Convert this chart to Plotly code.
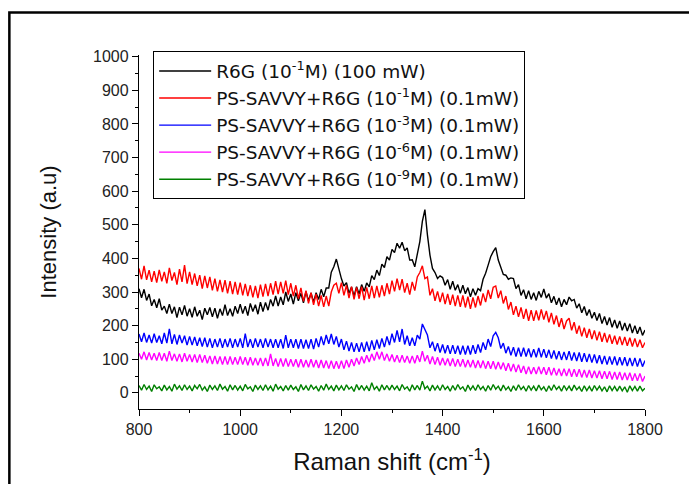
import plotly.graph_objects as go

raman_shift = list(range(800, 1801, 5))

r6g_100mw = [
    310,283,308,275,294,259,278,253,280,246,
    258,236,264,236,256,224,255,232,260,228,
    250,225,256,228,246,218,252,232,254,226,
    252,222,250,230,262,230,250,228,258,236,
    264,236,258,230,266,242,262,234,270,242,
    269,246,278,258,288,258,285,262,300,272,
    294,264,298,274,296,268,301,274,297,270,
    298,278,308,286,312,312,359,375,398,365,
    340,318,328,296,315,288,316,294,322,302,
    327,315,349,337,365,349,383,373,405,395,
    427,417,445,430,448,423,431,395,396,375,
    408,450,510,545,470,410,370,358,340,348,
    343,320,337,308,332,305,322,296,320,295,
    313,286,310,290,310,304,338,356,380,405,
    420,432,395,372,352,350,338,342,340,310,
    322,290,307,280,304,278,298,275,302,284,
    309,282,295,268,287,262,282,256,278,262,
    285,274,278,252,265,238,257,230,248,222,
    240,215,236,206,227,202,224,195,217,192,
    214,186,208,184,206,178,200,176,196,171,
    187,
]

savvy_1e1 = [
    370,338,378,336,365,330,362,328,366,332,
    360,326,372,334,358,322,368,330,380,325,
    360,322,355,318,350,310,348,312,345,305,
    340,302,336,300,335,296,332,294,330,292,
    328,290,324,288,320,284,318,282,322,286,
    324,288,326,292,332,294,330,296,334,292,
    326,288,320,280,312,272,304,266,298,262,
    294,258,290,256,288,258,300,320,326,296,
    328,290,320,282,316,278,314,280,316,276,
    314,280,318,282,318,284,320,288,326,294,
    334,302,340,306,338,298,326,292,330,304,
    345,358,378,340,345,290,310,274,302,270,
    298,264,294,262,292,258,290,256,290,254,
    286,250,284,254,288,260,296,270,306,280,
    314,318,282,304,266,288,248,270,232,258,
    226,254,220,250,214,246,214,245,216,248,
    218,244,210,238,204,230,196,222,190,214,
    222,186,210,176,200,168,194,164,190,160,
    186,156,182,152,178,150,174,146,170,144,
    168,142,166,140,164,138,162,136,158,134,
    150,
]

savvy_1e3 = [
    175,152,178,150,172,148,176,150,170,146,
    178,148,190,146,174,144,172,148,170,142,
    168,142,166,140,164,138,164,136,162,134,
    160,136,162,134,160,136,162,134,160,136,
    162,134,176,136,160,134,162,136,160,134,
    162,136,160,134,160,134,160,132,172,134,
    160,134,160,132,160,132,158,132,160,130,
    162,136,168,142,172,146,175,144,168,136,
    160,128,154,124,150,122,148,122,150,122,
    152,124,156,128,158,132,162,136,168,142,
    176,150,186,152,190,144,170,140,164,140,
    172,160,205,190,172,134,152,124,148,120,
    144,118,142,116,142,116,140,114,140,114,
    140,114,142,116,144,120,150,128,160,138,
    170,180,164,132,148,118,138,112,136,108,
    134,108,134,108,132,106,130,106,134,106,
    130,104,128,102,126,100,124,98,122,98,
    124,96,120,95,120,92,118,92,116,90,
    114,88,112,86,110,84,108,84,108,82,
    106,82,106,80,104,80,104,78,102,78,
    96,
]

savvy_1e6 = [
    118,100,122,98,120,98,118,96,120,96,
    118,94,124,96,116,94,116,92,118,94,
    114,92,114,90,114,90,112,88,110,86,
    110,86,108,84,108,84,108,84,106,84,
    108,84,106,82,106,82,104,82,104,80,
    104,80,116,80,102,78,102,78,102,78,
    100,78,100,76,100,76,98,76,100,76,
    98,74,98,74,96,72,96,72,94,72,
    96,72,98,76,100,80,104,84,108,88,
    112,92,116,96,122,100,122,96,116,94,
    114,92,112,90,112,90,110,88,110,88,
    112,92,124,94,112,86,108,84,106,82,
    104,82,102,80,102,78,100,78,100,76,
    98,76,98,74,96,74,96,72,94,72,
    94,70,92,70,90,66,88,64,86,62,
    84,60,80,56,78,56,76,56,78,56,
    76,54,76,52,74,52,72,50,72,50,
    72,48,70,48,70,46,68,46,68,44,
    66,44,66,42,64,42,64,40,62,40,
    62,38,60,38,60,36,58,36,58,34,
    50,
]

savvy_1e9 = [
    22,8,25,10,20,4,24,12,18,6,
    23,9,19,5,26,11,21,7,24,10,
    20,6,22,12,25,8,18,4,23,10,
    21,7,26,11,19,5,24,9,22,8,
    20,6,25,12,18,4,23,10,21,7,
    24,9,20,5,26,11,19,6,22,8,
    23,10,18,4,25,9,21,7,24,11,
    19,5,22,8,26,10,20,6,23,9,
    21,7,24,11,18,4,25,9,22,8,
    20,6,30,10,19,5,24,9,22,8,
    23,10,20,6,25,11,18,5,24,9,
    22,8,35,12,20,6,23,9,21,7,
    24,10,19,5,22,8,25,11,18,4,
    23,9,21,7,24,10,19,5,22,8,
    25,11,20,6,23,9,18,4,21,7,
    24,10,19,5,22,8,20,6,23,9,
    18,4,21,7,24,10,19,5,22,8,
    20,6,23,9,18,4,21,7,19,5,
    22,8,20,6,18,3,21,7,19,5,
    20,6,18,2,21,7,19,5,20,6,
    14,
]

series_names = [
    "R6G (10<sup>-1</sup>M) (100 mW)",
    "PS-SAVVY+R6G (10<sup>-1</sup>M) (0.1mW)",
    "PS-SAVVY+R6G (10<sup>-3</sup>M) (0.1mW)",
    "PS-SAVVY+R6G (10<sup>-6</sup>M) (0.1mW)",
    "PS-SAVVY+R6G (10<sup>-9</sup>M) (0.1mW)",
]
series_values = [r6g_100mw, savvy_1e1, savvy_1e3, savvy_1e6, savvy_1e9]
series_colors = ["#000000", "#FF0000", "#0000FF", "#FF00FF", "#008000"]

x_ticks = [800, 1000, 1200, 1400, 1600, 1800]
y_ticks = list(range(0, 1001, 100))

fig = go.Figure()
for name, vals, col in zip(series_names, series_values, series_colors):
    fig.add_trace(go.Scatter(
        x=raman_shift, y=vals, mode="lines", name=name,
        line=dict(color=col, width=1.4),
    ))

font_family = "Liberation Sans, Arial, sans-serif"

fig.update_layout(
    width=689, height=484,
    margin=dict(l=139, r=44, t=55, b=75),
    paper_bgcolor="white", plot_bgcolor="white",
    font=dict(family=font_family, color="#222222", size=15),
    showlegend=True,
    legend=dict(
        x=0.028, y=1.01, xanchor="left", yanchor="top",
        bgcolor="white", bordercolor="#000000", borderwidth=1,
        font=dict(size=18.5, family="DejaVu Sans, sans-serif", color="#111111"),
        traceorder="normal",
        itemwidth=52,
    ),
    xaxis=dict(
        range=[800, 1800], tickvals=x_ticks,
        showgrid=False, zeroline=False,
        showline=True, linecolor="#000000", linewidth=1.3,
        ticks="outside", ticklen=6, tickwidth=1.2, tickcolor="#000000",
        minor=dict(dtick=100, tick0=800, ticks="outside", ticklen=3, tickwidth=1, tickcolor="#000000"),
        tickfont=dict(size=16),
        title=dict(text="Raman shift (cm<sup>-1</sup>)", font=dict(size=24, color="#111111"), standoff=15),
    ),
    yaxis=dict(
        range=[-48, 1005], tickvals=y_ticks,
        showgrid=False, zeroline=False,
        showline=True, linecolor="#000000", linewidth=1.3,
        ticks="outside", ticklen=6, tickwidth=1.2, tickcolor="#000000",
        minor=dict(dtick=50, tick0=0, ticks="outside", ticklen=3, tickwidth=1, tickcolor="#000000"),
        tickfont=dict(size=16),
        title=dict(text="Intensity (a.u)", font=dict(size=22, color="#111111"), standoff=30),
    ),
    shapes=[dict(
        type="rect", xref="paper", yref="paper",
        x0=-0.2562, x1=1.3, y0=-0.4, y1=1.12,
        line=dict(color="#000000", width=2.5), fillcolor="rgba(0,0,0,0)", layer="below",
    )],
)

fig.write_html("out.html")
